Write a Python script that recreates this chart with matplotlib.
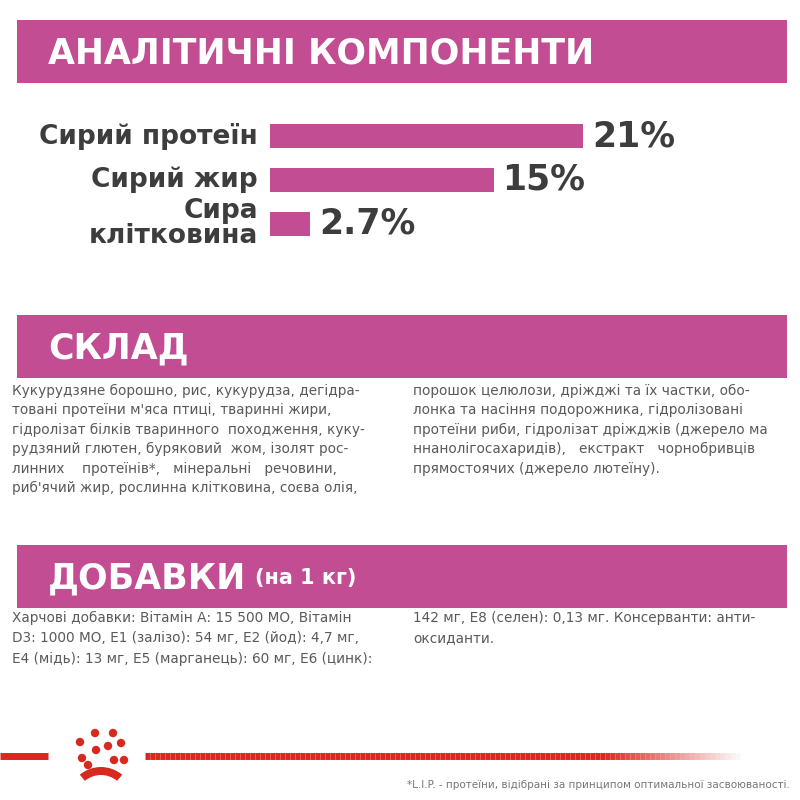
import numpy as np
import matplotlib
matplotlib.use("Agg")
import matplotlib.pyplot as plt
from matplotlib.patches import Rectangle, Circle, Wedge

# --- data ---
categories = ["Сирий протеїн", "Сирий жир", "Сира\nклітковина"]
values = [21, 15, 2.7]
value_labels = ["21%", "15%", "2.7%"]

headers = ["АНАЛІТИЧНІ КОМПОНЕНТИ", "СКЛАД", "ДОБАВКИ"]

sklad_left = [
    "Кукурудзяне борошно, рис, кукурудза, дегідра-",
    "товані протеїни м'яса птиці, тваринні жири,",
    "гідролізат білків тваринного  походження, куку-",
    "рудзяний глютен, буряковий  жом, ізолят рос-",
    "линних    протеїнів*,   мінеральні   речовини,",
    "риб'ячий жир, рослинна клітковина, соєва олія,",
]
sklad_right = [
    "порошок целюлози, дріжджі та їх частки, обо-",
    "лонка та насіння подорожника, гідролізовані",
    "протеїни риби, гідролізат дріжджів (джерело ма",
    "ннанолігосахаридів),   екстракт   чорнобривців",
    "прямостоячих (джерело лютеїну).",
]
dobavky_left = [
    "Харчові добавки: Вітамін А: 15 500 МО, Вітамін",
    "D3: 1000 МО, Е1 (залізо): 54 мг, Е2 (йод): 4,7 мг,",
    "Е4 (мідь): 13 мг, Е5 (марганець): 60 мг, Е6 (цинк):",
]
dobavky_right = [
    "142 мг, Е8 (селен): 0,13 мг. Консерванти: анти-",
    "оксиданти.",
]
footnote = "*L.I.P. - протеїни, відібрані за принципом оптимальної засвоюваності."

PINK = "#c24d92"
DARK = "#3d3d3d"
GREY = "#5a5a5a"
RED = "#d8291f"

fig = plt.figure(figsize=(8, 8), dpi=100)
ax = fig.add_axes([0, 0, 1, 1])
ax.set_xlim(0, 800)
ax.set_ylim(800, 0)
ax.axis("off")

# header bands
title_objs = []
for y0, title in zip([20, 315, 545], headers):
    ax.add_patch(Rectangle((17, y0), 770, 63, color=PINK, lw=0))
    t = ax.text(48, y0 + 33, title, color="white", fontsize=25, fontweight="bold",
                va="center", ha="left")
    title_objs.append(t)
ax.annotate("(на 1 кг)", xy=(1, 0.5), xycoords=title_objs[2], xytext=(6, 0),
            textcoords="offset points", color="white", fontsize=15,
            fontweight="bold", va="center", ha="left")

# bar chart
bx = fig.add_axes([270 / 800, 1 - 250 / 800, 313 / 800, 140 / 800])
ypos = [0, 1, 2]
bx.barh(ypos, values, height=0.55, color=PINK)
bx.set_xlim(0, 21)
bx.set_ylim(2.6, -0.6)
bx.axis("off")
for y, v, lab, cat in zip(ypos, values, value_labels, categories):
    bx.text(v + 0.6, y, lab, fontsize=25, fontweight="bold", color=DARK,
            va="center", ha="left")
    bx.text(-0.8, y, cat, fontsize=19, fontweight="bold", color=DARK,
            va="center", ha="right", linespacing=0.95)

# text blocks
def block(lines, x, y0, dy):
    for i, line in enumerate(lines):
        ax.text(x, y0 + i * dy, line, fontsize=9.8, color=GREY,
                va="center", ha="left")

block(sklad_left, 12, 391, 19.4)
block(sklad_right, 413, 391, 19.4)
block(dobavky_left, 12, 618, 20.5)
block(dobavky_right, 413, 618, 20.5)

# red line with fade
ax.plot([0, 48], [756, 756], color=RED, lw=5, solid_capstyle="butt")
xs = np.linspace(145, 740, 120)
for i in range(len(xs) - 1):
    a = 1.0 if xs[i] < 600 else max(0.0, 1 - (xs[i] - 600) / 140)
    ax.plot(xs[i:i + 2], [756, 756], color=RED, lw=5, alpha=a, solid_capstyle="butt")

# crown logo
for cx, cy in [(95, 733), (113, 733), (80, 742), (121, 743), (96, 750), (108, 746),
               (82, 758), (124, 760), (88, 765), (114, 760)]:
    ax.add_patch(Circle((cx, cy), 4.2, color=RED, lw=0))
ax.add_patch(Wedge((101, 800), 33, 230, 310, width=8, color=RED, lw=0))

ax.text(790, 785, footnote, fontsize=7.5, color="#777777",
        ha="right", va="center")

fig.savefig("out.png", dpi=100, facecolor="white")
